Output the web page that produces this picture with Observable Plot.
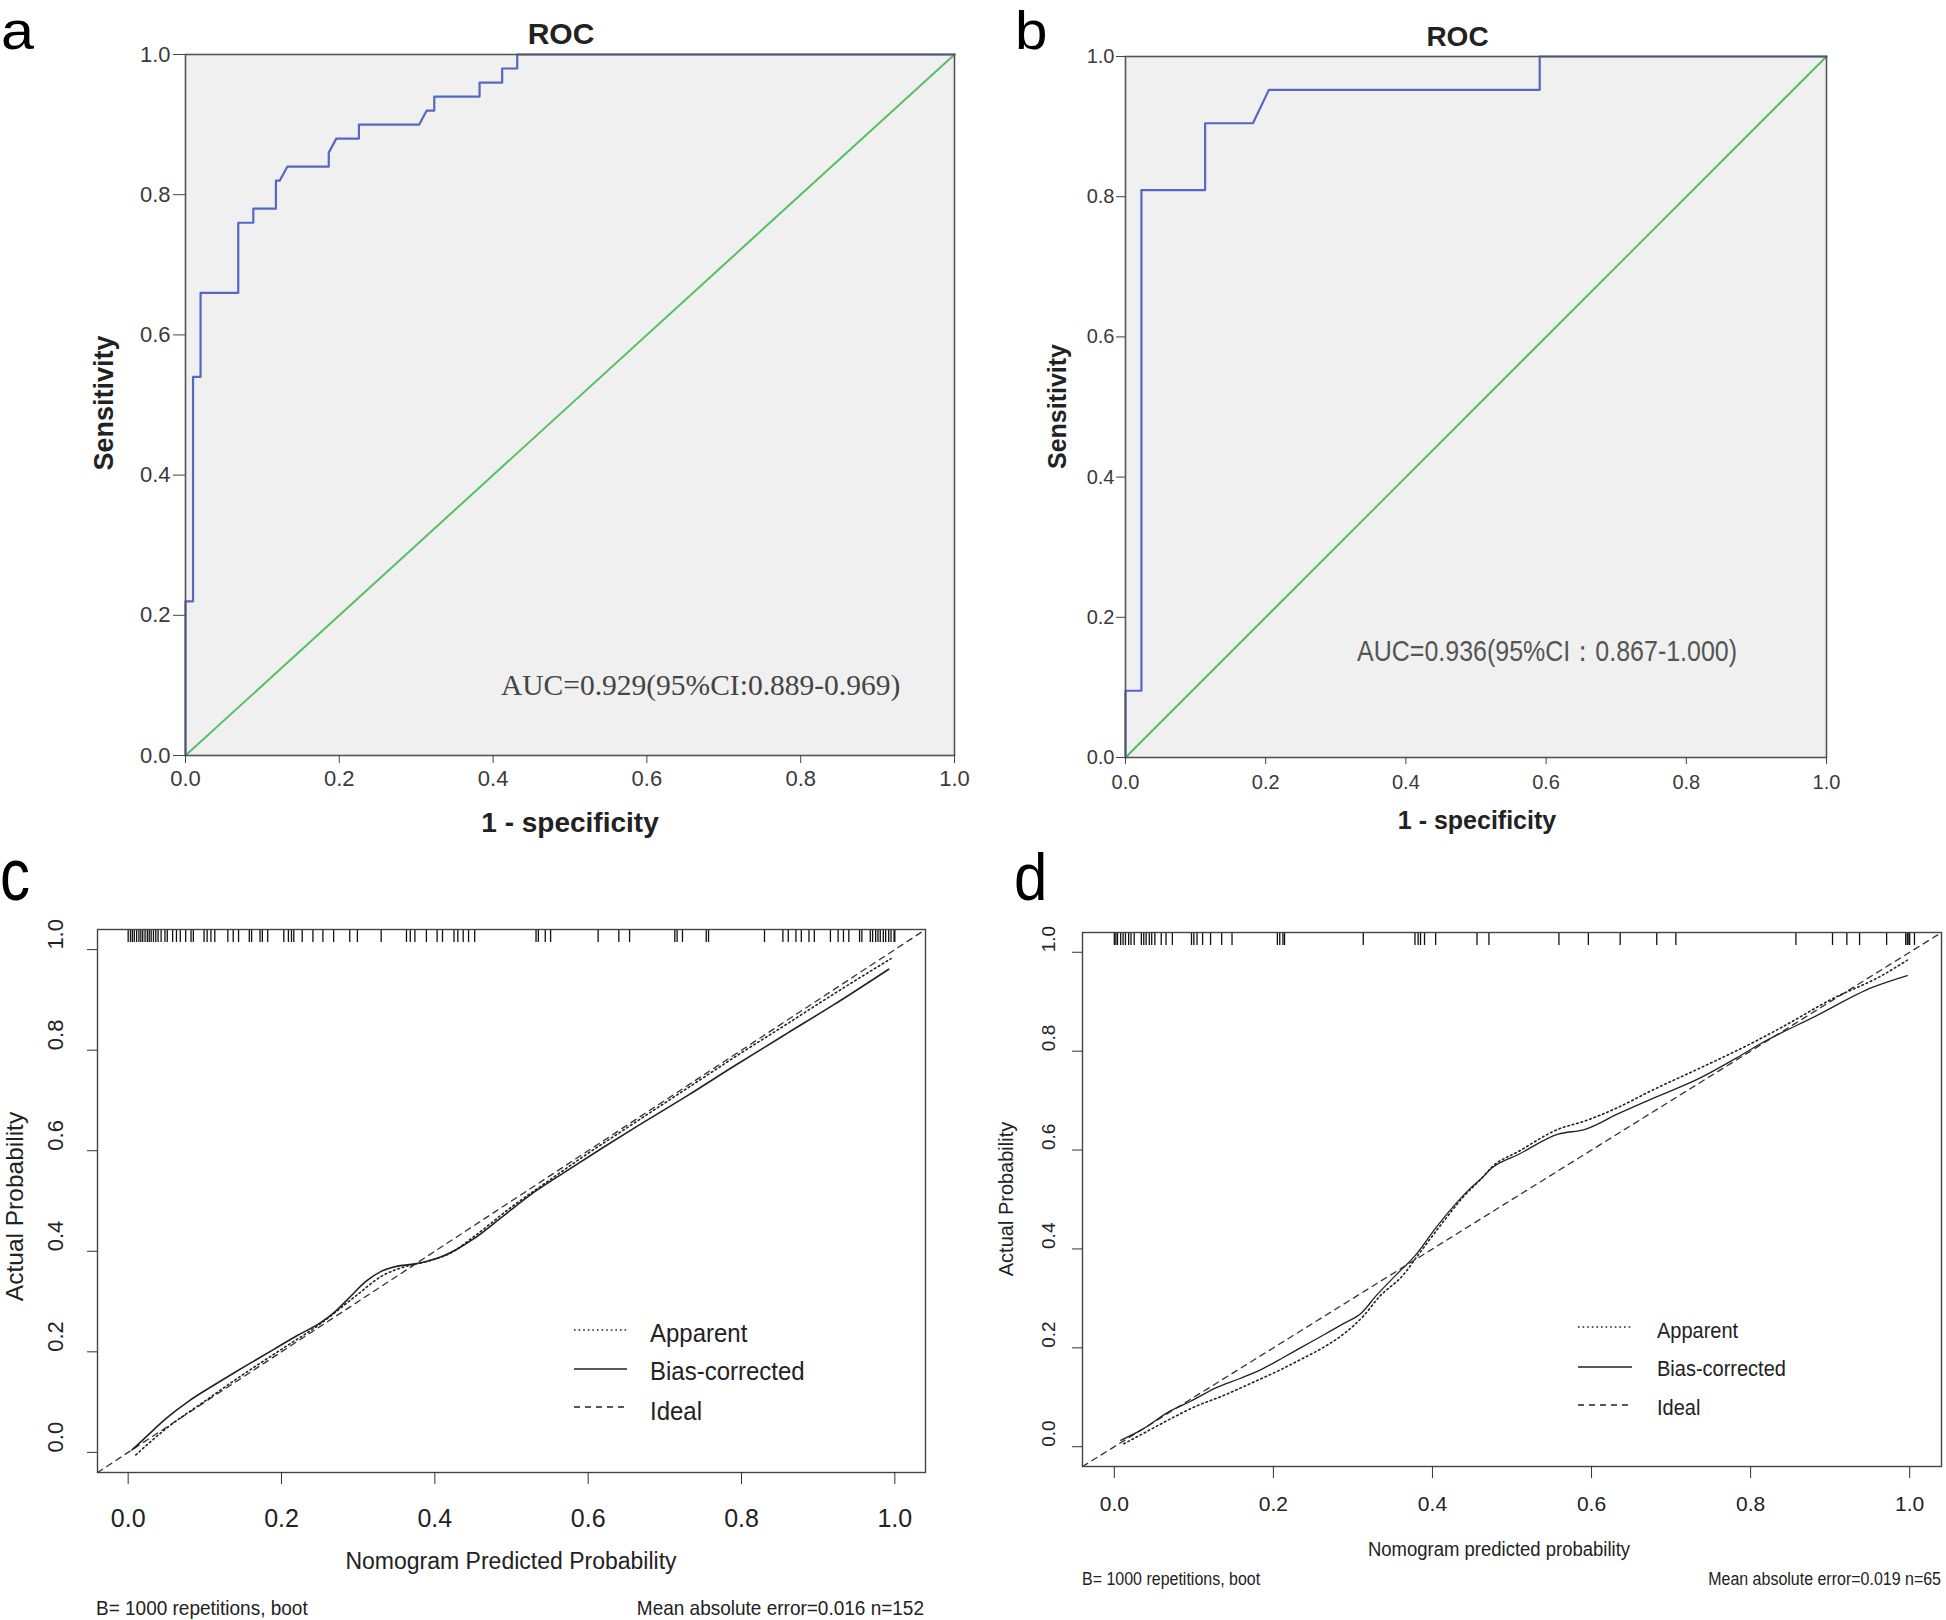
<!DOCTYPE html>
<html><head><meta charset="utf-8">
<script src="https://cdn.jsdelivr.net/npm/d3@7"></script>
<script src="https://cdn.jsdelivr.net/npm/@observablehq/plot@0.6"></script>
<style>
html,body{margin:0;padding:0;background:#fff;}
#page{position:relative;width:1946px;height:1620px;overflow:hidden;background:#fff;}
#page > svg{position:absolute;}
</style></head><body><div id="page"></div>
<script>
// ---------- data ----------
const tickValues = [0, 0.2, 0.4, 0.6, 0.8, 1.0];
const chanceLine = [0, 1];

// Panel a: ROC (training)
const rocA_fpr = [0, 0, 0.0098, 0.0098, 0.0196, 0.0196, 0.0686, 0.0686, 0.0882, 0.0882, 0.1176, 0.1176, 0.1225, 0.1324, 0.1863, 0.1863, 0.1961, 0.2255, 0.2255, 0.3039, 0.3137, 0.3235, 0.3235, 0.3824, 0.3824, 0.4118, 0.4118, 0.4314, 0.4314, 1];
const rocA_tpr = [0, 0.22, 0.22, 0.54, 0.54, 0.66, 0.66, 0.76, 0.76, 0.78, 0.78, 0.82, 0.82, 0.84, 0.84, 0.86, 0.88, 0.88, 0.90, 0.90, 0.92, 0.92, 0.94, 0.94, 0.96, 0.96, 0.98, 0.98, 1.0, 1.0];

// Panel b: ROC (validation)
const rocB_fpr = [0, 0, 0.0227, 0.0227, 0.1136, 0.1136, 0.1818, 0.2045, 0.5909, 0.5909, 1];
const rocB_tpr = [0, 0.0952, 0.0952, 0.8095, 0.8095, 0.9048, 0.9048, 0.9524, 0.9524, 1, 1];

// Panel c: calibration (training, n=152)
const calAxis = [-0.04, 1.04];
const apparentC_x = [0.01, 0.05, 0.10, 0.15, 0.20, 0.25, 0.30, 0.33, 0.36, 0.39, 0.42, 0.45, 0.50, 0.55, 0.60, 0.65, 0.70, 0.75, 0.80, 0.85, 0.90, 0.95, 0.995];
const apparentC_y = [-0.005, 0.048, 0.102, 0.155, 0.205, 0.255, 0.315, 0.350, 0.369, 0.380, 0.396, 0.428, 0.488, 0.542, 0.595, 0.645, 0.695, 0.745, 0.795, 0.843, 0.892, 0.940, 0.982];
const biasC_x = [0.005, 0.02, 0.05, 0.08, 0.11, 0.14, 0.16, 0.19, 0.22, 0.25, 0.27, 0.29, 0.31, 0.33, 0.35, 0.37, 0.39, 0.41, 0.43, 0.45, 0.485, 0.53, 0.57, 0.62, 0.66, 0.73, 0.79, 0.86, 0.92, 0.992];
const biasC_y = [0.005, 0.026, 0.068, 0.103, 0.132, 0.160, 0.178, 0.205, 0.232, 0.257, 0.280, 0.310, 0.340, 0.360, 0.370, 0.374, 0.380, 0.390, 0.405, 0.424, 0.465, 0.518, 0.558, 0.607, 0.645, 0.710, 0.768, 0.834, 0.890, 0.961];
const rugC = [0.000, 0.003, 0.0055, 0.008, 0.011, 0.014, 0.0165, 0.019, 0.022, 0.025, 0.0275, 0.030, 0.033, 0.036, 0.039, 0.043, 0.048, 0.051, 0.058, 0.063, 0.068, 0.075, 0.082, 0.085, 0.099, 0.103, 0.108, 0.113, 0.130, 0.137, 0.144, 0.158, 0.161, 0.172, 0.175, 0.182, 0.203, 0.209, 0.213, 0.216, 0.227, 0.241, 0.254, 0.268, 0.289, 0.299, 0.330, 0.363, 0.368, 0.374, 0.389, 0.403, 0.410, 0.425, 0.430, 0.437, 0.444, 0.452, 0.532, 0.535, 0.544, 0.551, 0.613, 0.640, 0.654, 0.713, 0.716, 0.723, 0.754, 0.757, 0.830, 0.854, 0.861, 0.871, 0.878, 0.888, 0.895, 0.916, 0.926, 0.933, 0.940, 0.954, 0.957, 0.968, 0.971, 0.975, 0.978, 0.981, 0.985, 0.988, 0.992, 0.995, 0.999, 1.0];

// Panel d: calibration (validation, n=65)
const apparentD_x = [0.012, 0.04, 0.075, 0.10, 0.138, 0.17, 0.208, 0.235, 0.263, 0.29, 0.313, 0.333, 0.363, 0.383, 0.417, 0.4375, 0.4625, 0.475, 0.508, 0.558, 0.592, 0.633, 0.675, 0.738, 0.80, 0.84, 0.903, 0.965, 0.997];
const apparentD_y = [0.006, 0.030, 0.060, 0.080, 0.104, 0.127, 0.155, 0.177, 0.201, 0.230, 0.264, 0.303, 0.347, 0.390, 0.462, 0.503, 0.544, 0.566, 0.597, 0.642, 0.659, 0.686, 0.720, 0.767, 0.815, 0.849, 0.906, 0.953, 0.984];
const biasD_x = [0.008, 0.033, 0.071, 0.096, 0.129, 0.158, 0.187, 0.212, 0.234, 0.263, 0.288, 0.311, 0.329, 0.354, 0.379, 0.404, 0.421, 0.446, 0.4625, 0.475, 0.508, 0.558, 0.592, 0.633, 0.675, 0.738, 0.783, 0.8125, 0.883, 0.953, 0.997];
const biasD_y = [0.013, 0.033, 0.073, 0.092, 0.120, 0.138, 0.158, 0.180, 0.200, 0.226, 0.249, 0.271, 0.305, 0.347, 0.388, 0.442, 0.476, 0.520, 0.544, 0.564, 0.591, 0.632, 0.642, 0.673, 0.703, 0.747, 0.787, 0.815, 0.872, 0.929, 0.953];
const rugD = [0.0, 0.002, 0.004, 0.008, 0.011, 0.014, 0.018, 0.021, 0.025, 0.034, 0.037, 0.040, 0.044, 0.047, 0.051, 0.059, 0.065, 0.073, 0.097, 0.100, 0.104, 0.111, 0.121, 0.135, 0.148, 0.205, 0.208, 0.212, 0.214, 0.313, 0.378, 0.382, 0.385, 0.390, 0.404, 0.456, 0.471, 0.559, 0.596, 0.636, 0.682, 0.706, 0.857, 0.903, 0.921, 0.937, 0.971, 0.995, 0.997, 0.999, 1.0, 1.006];

// ---------- helpers ----------
const page = document.getElementById("page");
const fmt1 = d3.format(".1f");
const SANS = "'Liberation Sans', Arial, sans-serif";
const SERIF = "'Liberation Serif', 'Times New Roman', serif";
const pts = (xs, ys) => xs.map((x, i) => ({x, y: ys[i]}));

function place(svg, left, top) {
  svg.style.left = left + "px";
  svg.style.top = top + "px";
  page.appendChild(svg);
}

// ---------- ROC panels ----------
function rocPanel(o) {
  return Plot.plot({
    width: o.width, height: o.height,
    marginLeft: o.ml, marginRight: o.mr, marginTop: o.mt, marginBottom: o.mb,
    x: {domain: [0, 1]}, y: {domain: [0, 1]},
    style: {fontFamily: SANS, color: "#3a3a3a", background: "transparent", overflow: "visible"},
    marks: [
      Plot.frame({fill: "#f0f0f0"}),
      Plot.line(chanceLine, {x: d => d, y: d => d, stroke: "#55c062", strokeWidth: 2}),
      Plot.line(pts(o.fpr, o.tpr), {x: "x", y: "y", stroke: "#5468c4", strokeWidth: 2.2}),
      Plot.frame({stroke: "#555", strokeWidth: 1.6}),
      Plot.axisX(tickValues, {tickSize: o.xts, tickPadding: o.xtp, tickFormat: fmt1, label: null, fontSize: o.fs, stroke: "#444"}),
      Plot.axisY(tickValues, {tickSize: o.yts, tickPadding: o.ytp, tickFormat: fmt1, label: null, fontSize: o.fs, stroke: "#444"})
    ]
  });
}

place(rocPanel({width: 980, height: 860, ml: 185, mr: 26, mt: 54, mb: 105,
  fpr: rocA_fpr, tpr: rocA_tpr, xts: 8, xtp: 7, yts: 12, ytp: 3, fs: 22}), 0, 0);
place(rocPanel({width: 966, height: 860, ml: 145, mr: 120, mt: 56, mb: 103,
  fpr: rocB_fpr, tpr: rocB_tpr, xts: 7, xtp: 10, yts: 9, ytp: 2, fs: 20}), 980, 0);

// ---------- calibration panels ----------
function calPanel(o) {
  const plotH = o.height - o.mt - o.mb;
  return Plot.plot({
    width: o.width, height: o.height,
    marginLeft: o.ml, marginRight: o.mr, marginTop: o.mt, marginBottom: o.mb,
    x: {domain: calAxis}, y: {domain: calAxis},
    style: {fontFamily: SANS, color: "#222", background: "transparent", overflow: "visible"},
    marks: [
      Plot.ruleX(o.rug, {x: d => d, stroke: "#111", strokeWidth: 1.3, insetBottom: plotH - 13}),
      Plot.line(calAxis, {x: d => d, y: d => d, stroke: "#333", strokeWidth: 1.3, strokeDasharray: "6,5"}),
      Plot.line(pts(o.ax, o.ay), {x: "x", y: "y", stroke: "#222", strokeWidth: 1.6, strokeDasharray: "1.6,3", curve: "monotone-x"}),
      Plot.line(pts(o.bx, o.by), {x: "x", y: "y", stroke: "#222", strokeWidth: o.lw, curve: "monotone-x"}),
      Plot.frame({stroke: "#444", strokeWidth: 1.4}),
      Plot.axisX(tickValues, {tickSize: 12, tickPadding: o.xtp, tickFormat: fmt1, label: null, fontSize: o.fs, stroke: "#333"}),
      Plot.axisY(tickValues, {tickSize: 10, tickFormat: () => "", label: null, stroke: "#333"}),
      Plot.text(tickValues, {y: d => d, text: d => fmt1(d), frameAnchor: "left", dx: o.ydx, rotate: -90, fontSize: o.yfs, fill: "#222"})
    ]
  });
}

place(calPanel({width: 980, height: 760, ml: 97, mr: 55, mt: 69, mb: 148,
  rug: rugC, ax: apparentC_x, ay: apparentC_y, bx: biasC_x, by: biasC_y,
  lw: 1.6, xtp: 25, fs: 25, ydx: -42, yfs: 22}), 0, 860);
place(calPanel({width: 966, height: 760, ml: 102, mr: 5, mt: 72, mb: 154,
  rug: rugD, ax: apparentD_x, ay: apparentD_y, bx: biasD_x, by: biasD_y,
  lw: 1.3, xtp: 18, fs: 21, ydx: -34, yfs: 19}), 980, 860);

// ---------- overlay: titles, labels, legends ----------
const NS = "http://www.w3.org/2000/svg";
const ov = document.createElementNS(NS, "svg");
ov.setAttribute("width", 1946); ov.setAttribute("height", 1620);
ov.style.left = "0px"; ov.style.top = "0px"; ov.style.pointerEvents = "none";
page.appendChild(ov);

function T(x, y, s, o = {}) {
  const t = document.createElementNS(NS, "text");
  t.textContent = s;
  t.setAttribute("font-family", o.family || SANS);
  t.setAttribute("font-size", o.size || 20);
  if (o.weight) t.setAttribute("font-weight", o.weight);
  t.setAttribute("text-anchor", o.anchor || "start");
  t.setAttribute("fill", o.fill || "#222");
  t.setAttribute("transform", `translate(${x},${y}) rotate(${o.rotate || 0}) scale(${o.sx || 1},${o.sy || 1})`);
  ov.appendChild(t);
}
function L(x1, x2, y, dash, w) {
  const l = document.createElementNS(NS, "line");
  l.setAttribute("x1", x1); l.setAttribute("x2", x2);
  l.setAttribute("y1", y); l.setAttribute("y2", y);
  l.setAttribute("stroke", "#222"); l.setAttribute("stroke-width", w);
  if (dash) l.setAttribute("stroke-dasharray", dash);
  ov.appendChild(l);
}

// panel letters
T(1, 49, "a", {size: 53, sx: 1.12, fill: "#000"});
T(1015, 49, "b", {size: 53, sx: 1.1, fill: "#000"});
T(0, 900, "c", {size: 60, sy: 1.25, fill: "#000"});
T(1014, 900, "d", {size: 60, sy: 1.1, fill: "#000"});

// panel a
T(561, 43.5, "ROC", {size: 30, weight: "bold", anchor: "middle"});
T(570, 832, "1 - specificity", {size: 28, weight: "bold", anchor: "middle"});
T(113, 403, "Sensitivity", {size: 27, weight: "bold", anchor: "middle", rotate: -90});
T(501, 695, "AUC=0.929(95%CI:0.889-0.969)", {size: 29.5, family: SERIF, fill: "#444"});

// panel b
T(1457.5, 46, "ROC", {size: 28, weight: "bold", anchor: "middle"});
T(1477, 829, "1 - specificity", {size: 25, weight: "bold", anchor: "middle"});
T(1066, 406.5, "Sensitivity", {size: 25, weight: "bold", anchor: "middle", rotate: -90});
T(1357, 661, "AUC=0.936(95%CI：0.867-1.000)", {size: 25, sy: 1.15, fill: "#555"});

// panel c
T(511, 1569, "Nomogram Predicted Probability", {size: 23, anchor: "middle"});
T(23, 1206.5, "Actual Probability", {size: 24.5, anchor: "middle", rotate: -90});
L(574, 627, 1330, "1.6,3", 1.6); L(574, 627, 1369, null, 1.6); L(574, 627, 1407, "6,5", 1.3);
T(650, 1342, "Apparent", {size: 24, sy: 1.1});
T(650, 1380, "Bias-corrected", {size: 24, sy: 1.1});
T(650, 1420, "Ideal", {size: 24, sy: 1.1});
T(96, 1615, "B= 1000 repetitions, boot", {size: 19, sy: 1.05});
T(924, 1615, "Mean absolute error=0.016 n=152", {size: 19, sy: 1.05, anchor: "end"});

// panel d
T(1499, 1556, "Nomogram predicted probability", {size: 18.5, sy: 1.1, anchor: "middle"});
T(1013, 1199, "Actual Probability", {size: 20, anchor: "middle", rotate: -90});
L(1578, 1632, 1327, "1.6,3", 1.5); L(1578, 1632, 1367, null, 1.3); L(1578, 1632, 1405, "6,5", 1.3);
T(1657, 1338, "Apparent", {size: 20, sy: 1.1});
T(1657, 1376, "Bias-corrected", {size: 20, sy: 1.1});
T(1657, 1415, "Ideal", {size: 20, sy: 1.1});
T(1082, 1585, "B= 1000 repetitions, boot", {size: 16, sy: 1.12});
T(1941, 1585, "Mean absolute error=0.019 n=65", {size: 16, sy: 1.12, anchor: "end"});
</script></body></html>
